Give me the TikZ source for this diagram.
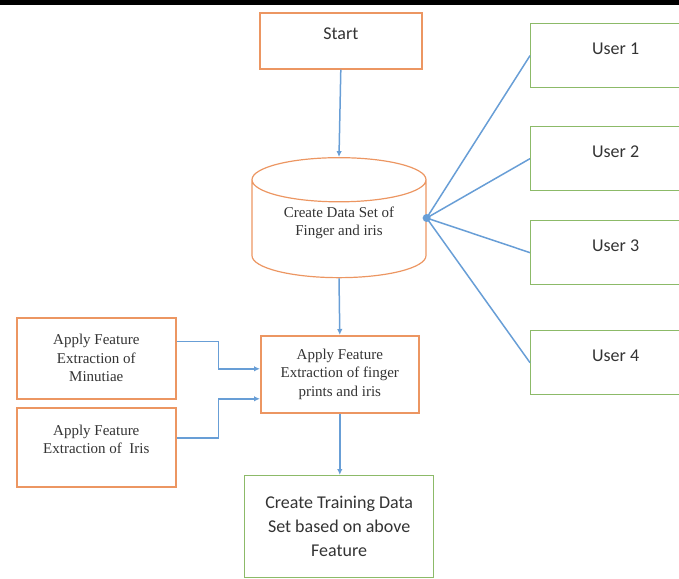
\documentclass[tikz,border=0pt]{standalone}
\usepackage{fontspec}
\setmainfont{Liberation Serif}
\newfontfamily\carlito{Carlito}
\usetikzlibrary{shapes.geometric,arrows.meta}
\definecolor{boxorange}{RGB}{236,150,98}
\definecolor{boxgreen}{RGB}{140,186,104}
\definecolor{linkblue}{RGB}{104,158,214}
\tikzset{
    orangebox/.style={draw=boxorange,line width=1.6pt,text=black!80,align=center,
        inner sep=0pt,font=\fontsize{15}{18.5}\selectfont},
    greenbox/.style={draw=boxgreen,line width=1.3pt,text=black!80,align=center,
        inner sep=0pt,font=\carlito\fontsize{18}{24}\selectfont},
    link/.style={draw=linkblue,line width=1.5pt},
    arr/.style={link,-{Latex[length=6pt,width=5.5pt]}},
}
\begin{document}
\begin{tikzpicture}[x=1pt,y=-1pt]
    \path[use as bounding box,clip] (0,0) rectangle (679,578);
    \fill[black] (0,0) rectangle (679,5);
    %% Main column
    \node[orangebox,anchor=north west,minimum width=162pt,text height=27pt,text depth=29pt,
        font=\carlito\fontsize{18}{22}\selectfont] (start) at (259,12) {Start};
    \node[orangebox,cylinder,shape border rotate=90,aspect=0.4,minimum width=174pt,
        minimum height=120pt,line width=1.2pt,text depth=16pt] (dataset) at (339,229)
        {Create Data Set of\\Finger and iris};
    \node[orangebox,anchor=north west,minimum width=158pt,minimum height=77pt] (extract) at (260,335)
        {Apply Feature\\Extraction of finger\\prints and iris};
    \node[greenbox,anchor=north west,minimum width=189pt,minimum height=102pt] (training) at (244,475)
        {Create Training Data\\Set based on above\\Feature};
    %% Left boxes
    \node[orangebox,anchor=north west,minimum width=159pt,minimum height=81pt] (minutiae) at (16,317)
        {Apply Feature\\Extraction of\\Minutiae};
    \node[orangebox,anchor=north west,minimum width=159pt,text height=46pt,text depth=33pt] (iris) at (16,407)
        {Apply Feature\\Extraction of~~Iris};
    %% Users
    \foreach \u/\y in {1/23,2/126,3/220,4/330}
        \node[greenbox,anchor=north west,minimum width=170pt,text height=31pt,text depth=33pt]
            (user\u) at (530,\y) {User \u};
    %% Connectors
    \coordinate (hub) at ([yshift=11pt]dataset.east);
    \draw[arr] (start.south) -- (dataset.north);
    \draw[arr] (dataset.south) -- (extract.north);
    \draw[arr] (extract.south) -- (extract.south |- training.north);
    \foreach \u in {1,...,4}
        \draw[link] (hub) -- (user\u.west);
    \fill[linkblue] (hub) circle (4pt);
    \draw[arr] ([yshift=17pt]minutiae.east) -- ++(42,0) |- ([yshift=5.5pt]extract.west);
    \draw[arr] ([yshift=9.5pt]iris.east) -- ++(42,0) |- ([yshift=-24.5pt]extract.west);
\end{tikzpicture}
\end{document}
